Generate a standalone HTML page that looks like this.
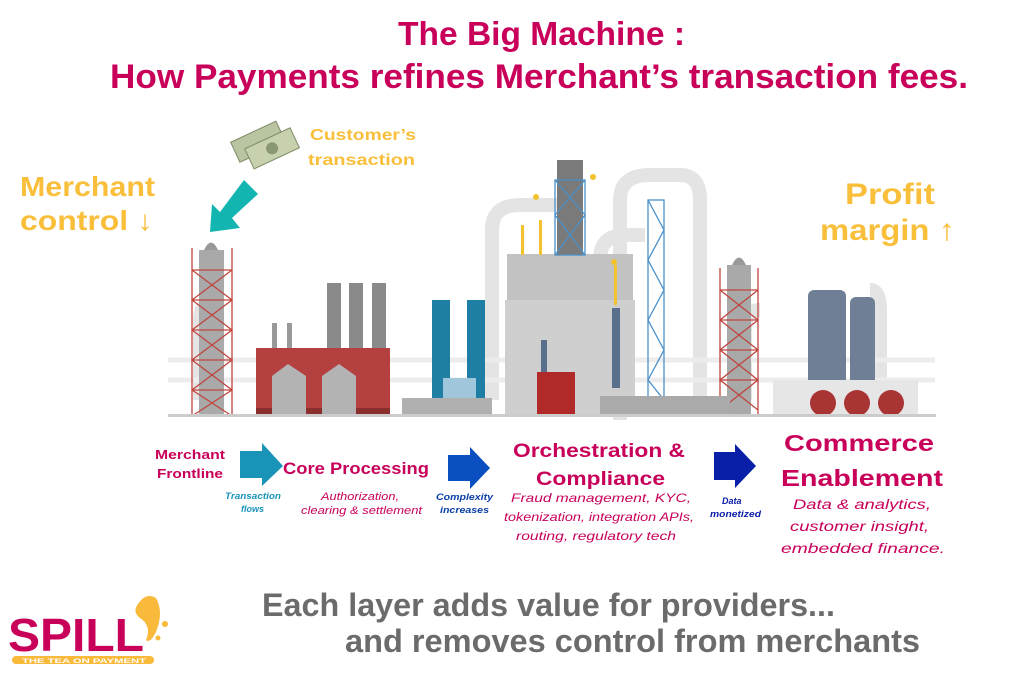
<!DOCTYPE html>
<html><head><meta charset="utf-8"><style>
html,body{margin:0;padding:0;background:#fff;}
svg{display:block;}
text{font-family:"Liberation Sans",sans-serif;font-weight:bold;}
</style></head><body>
<svg width="1024" height="683" viewBox="0 0 1024 683" xmlns="http://www.w3.org/2000/svg">
<rect width="1024" height="683" fill="#fff"/>
<text x="398" y="45" font-size="33" fill="#c8005a" textLength="287" lengthAdjust="spacingAndGlyphs">The Big Machine :</text>
<text x="110" y="88" font-size="34" fill="#c8005a" textLength="858" lengthAdjust="spacingAndGlyphs">How Payments refines Merchant’s transaction fees.</text>

<text x="20" y="196" font-size="28" fill="#f9bf3b" textLength="135" lengthAdjust="spacingAndGlyphs">Merchant</text>
<text x="20" y="230" font-size="28" fill="#f9bf3b" textLength="133" lengthAdjust="spacingAndGlyphs">control ↓</text>
<text x="845" y="204" font-size="30" fill="#f9bf3b" textLength="90" lengthAdjust="spacingAndGlyphs">Profit</text>
<text x="820" y="240" font-size="30" fill="#f9bf3b" textLength="135" lengthAdjust="spacingAndGlyphs">margin ↑</text>
<text x="310" y="140" font-size="16" fill="#f9bf3b" textLength="106" lengthAdjust="spacingAndGlyphs">Customer’s</text>
<text x="308" y="165" font-size="16" fill="#f9bf3b" textLength="107" lengthAdjust="spacingAndGlyphs">transaction</text>

<g transform="rotate(-25 265 145)">
<rect x="235" y="128" width="50" height="22" fill="#b9c4a0" stroke="#7d8a66"/>
<rect x="245" y="140" width="50" height="22" fill="#c7d1ae" stroke="#7d8a66"/>
<circle cx="270" cy="151" r="6" fill="#8a9872"/>
</g>
<polygon points="244,180 258,194 232,218 240,228 210,232 212,204 220,212" fill="#13b5b1"/>

<g fill="none" stroke="#e4e4e4" stroke-width="14">
<path d="M492,400 V230 Q492,205 520,205 H560"/>
<path d="M620,420 V200 Q620,175 650,175 H680 Q700,175 700,200 V400"/>
<path d="M600,400 V260 Q600,235 625,235 H645"/>
<path d="M200,400 V320 Q200,300 220,300"/>
<path d="M745,400 V330 Q745,310 760,310"/>
<path d="M880,400 V310 Q880,290 870,290"/>
</g>
<g stroke="#ececec" stroke-width="5">
<line x1="168" y1="360" x2="935" y2="360"/>
<line x1="168" y1="380" x2="935" y2="380"/>
</g>

<rect x="199" y="250" width="25" height="166" fill="#a9a9a9"/>
<path d="M204,250 Q211,235 218,250Z" fill="#999"/>
<g stroke="#c0453f" stroke-width="1.3" fill="none">
<line x1="192" y1="248" x2="192" y2="416"/><line x1="232" y1="248" x2="232" y2="416"/>
<path d="M192,270 H232 M192,300 H232 M192,330 H232 M192,360 H232 M192,390 H232 M192,270 L232,300 L192,330 L232,360 L192,390 L232,416 M232,270 L192,300 L232,330 L192,360 L232,390 L192,416"/>
</g>
<rect x="727" y="265" width="24" height="151" fill="#a9a9a9"/>
<path d="M732,265 Q739,250 746,265Z" fill="#999"/>
<g stroke="#c0453f" stroke-width="1.3" fill="none">
<line x1="720" y1="268" x2="720" y2="416"/><line x1="758" y1="268" x2="758" y2="416"/>
<path d="M720,290 H758 M720,320 H758 M720,350 H758 M720,380 H758 M720,290 L758,320 L720,350 L758,380 L720,410 M758,290 L720,320 L758,350 L720,380 L758,410"/>
</g>

<rect x="327" y="283" width="14" height="70" fill="#8a8a8a"/>
<rect x="349" y="283" width="14" height="70" fill="#8a8a8a"/>
<rect x="372" y="283" width="14" height="70" fill="#8a8a8a"/>
<rect x="272" y="323" width="5" height="30" fill="#999"/><rect x="287" y="323" width="5" height="30" fill="#999"/>
<rect x="256" y="348" width="134" height="60" fill="#b54040"/>
<rect x="256" y="408" width="134" height="8" fill="#8a2e2e"/>
<path d="M272,376 L288,364 L306,376 V416 H272Z" fill="#b3b3b3"/>
<path d="M322,376 L339,364 L356,376 V416 H322Z" fill="#b3b3b3"/>

<rect x="432" y="300" width="18" height="110" fill="#1e7ea3"/>
<rect x="467" y="300" width="18" height="110" fill="#1e7ea3"/>
<rect x="443" y="378" width="33" height="22" fill="#9fc6da"/>
<rect x="402" y="398" width="90" height="18" fill="#b0b0b0"/>

<rect x="507" y="254" width="126" height="50" fill="#c2c2c2"/>
<rect x="505" y="300" width="130" height="116" fill="#cfcfcf"/>
<rect x="557" y="160" width="26" height="95" fill="#7a7a7a"/>
<g stroke="#4a90c9" stroke-width="1.3" fill="none">
<rect x="555" y="180" width="30" height="75"/>
<path d="M555,180 L585,215 L555,255 M585,180 L555,215 L585,255"/>
<rect x="648" y="200" width="16" height="200"/>
<path d="M648,200 L664,230 L648,260 L664,290 L648,320 L664,350 L648,380 L664,400"/>
</g>
<g fill="#f2c32e">
<rect x="521" y="225" width="3" height="30"/><rect x="539" y="220" width="3" height="35"/><rect x="614" y="265" width="3" height="40"/>
<circle cx="536" cy="197" r="3"/><circle cx="593" cy="177" r="3"/><circle cx="614" cy="262" r="3"/>
</g>
<rect x="612" y="308" width="8" height="80" fill="#5a6f8c"/>
<rect x="541" y="340" width="6" height="40" fill="#5a6f8c"/>
<rect x="537" y="372" width="38" height="44" fill="#b02a2a"/>
<rect x="600" y="396" width="130" height="20" fill="#aaa"/>

<rect x="808" y="290" width="38" height="100" rx="6" fill="#6e7f96"/>
<rect x="850" y="297" width="25" height="93" rx="6" fill="#6e7f96"/>
<rect x="773" y="380" width="145" height="36" fill="#e6e6e6"/>
<circle cx="823" cy="403" r="13" fill="#a83434"/>
<circle cx="857" cy="403" r="13" fill="#a83434"/>
<circle cx="891" cy="403" r="13" fill="#a83434"/>

<rect x="168" y="414" width="768" height="3" fill="#ccc"/>

<text x="155" y="459" font-size="13" fill="#c8005a" textLength="70" lengthAdjust="spacingAndGlyphs">Merchant</text>
<text x="157" y="478" font-size="13" fill="#c8005a" textLength="66" lengthAdjust="spacingAndGlyphs">Frontline</text>
<polygon points="240,451 262,451 262,443 283,466 262,486 262,478 240,478" fill="#1a93b8"/>
<text x="283" y="474" font-size="17" fill="#c8005a" textLength="146" lengthAdjust="spacingAndGlyphs">Core Processing</text>
<text x="225" y="499" font-size="9" font-style="italic" fill="#1a93b8" textLength="56" lengthAdjust="spacingAndGlyphs">Transaction</text>
<text x="241" y="512" font-size="9" font-style="italic" fill="#1a93b8">flows</text>
<text x="321" y="500" font-size="11" font-style="italic" fill="#c8005a" style="font-weight:normal" textLength="78" lengthAdjust="spacingAndGlyphs">Authorization,</text>
<text x="301" y="514" font-size="11" font-style="italic" fill="#c8005a" style="font-weight:normal" textLength="121" lengthAdjust="spacingAndGlyphs">clearing &amp; settlement</text>

<polygon points="448,455 470,455 470,447 490,468 470,489 470,481 448,481" fill="#0a4fbf"/>
<text x="436" y="500" font-size="9" font-style="italic" fill="#0a3fa8" textLength="57" lengthAdjust="spacingAndGlyphs">Complexity</text>
<text x="440" y="513" font-size="9" font-style="italic" fill="#0a3fa8" textLength="49" lengthAdjust="spacingAndGlyphs">increases</text>

<text x="513" y="457" font-size="19" fill="#c8005a" textLength="172" lengthAdjust="spacingAndGlyphs">Orchestration &amp;</text>
<text x="536" y="485" font-size="19" fill="#c8005a" textLength="129" lengthAdjust="spacingAndGlyphs">Compliance</text>
<text x="511" y="502" font-size="12" font-style="italic" fill="#c8005a" style="font-weight:normal" textLength="180" lengthAdjust="spacingAndGlyphs">Fraud management, KYC,</text>
<text x="504" y="521" font-size="12" font-style="italic" fill="#c8005a" style="font-weight:normal" textLength="190" lengthAdjust="spacingAndGlyphs">tokenization, integration APIs,</text>
<text x="516" y="540" font-size="12" font-style="italic" fill="#c8005a" style="font-weight:normal" textLength="160" lengthAdjust="spacingAndGlyphs">routing, regulatory tech</text>

<polygon points="714,452 735,452 735,444 756,466 735,488 735,480 714,480" fill="#0a1fa8"/>
<text x="722" y="504" font-size="9" font-style="italic" fill="#0a1fa8">Data</text>
<text x="710" y="517" font-size="9" font-style="italic" fill="#0a1fa8" textLength="51" lengthAdjust="spacingAndGlyphs">monetized</text>

<text x="784" y="451" font-size="23" fill="#c8005a" textLength="150" lengthAdjust="spacingAndGlyphs">Commerce</text>
<text x="781" y="486" font-size="23" fill="#c8005a" textLength="162" lengthAdjust="spacingAndGlyphs">Enablement</text>
<text x="793" y="509" font-size="14" font-style="italic" fill="#c8005a" style="font-weight:normal" textLength="138" lengthAdjust="spacingAndGlyphs">Data &amp; analytics,</text>
<text x="790" y="531" font-size="14" font-style="italic" fill="#c8005a" style="font-weight:normal" textLength="139" lengthAdjust="spacingAndGlyphs">customer insight,</text>
<text x="781" y="553" font-size="14" font-style="italic" fill="#c8005a" style="font-weight:normal" textLength="164" lengthAdjust="spacingAndGlyphs">embedded finance.</text>

<text x="262" y="616" font-size="32" fill="#6b6b6b" textLength="573" lengthAdjust="spacingAndGlyphs">Each layer adds value for providers...</text>
<text x="345" y="652" font-size="32" fill="#6b6b6b" textLength="575" lengthAdjust="spacingAndGlyphs">and removes control from merchants</text>

<path d="M138,604 Q146,592 156,598 Q164,612 156,632 Q150,644 146,640 Q152,626 140,618 Q132,612 138,604Z" fill="#f9b93b"/>
<circle cx="165" cy="624" r="3" fill="#f9b93b"/>
<circle cx="158" cy="638" r="2.5" fill="#f9b93b"/>
<text x="8" y="651" font-size="46" fill="#c8005a" textLength="136" lengthAdjust="spacingAndGlyphs">SPILL</text>
<rect x="12" y="656" width="142" height="8" rx="4" fill="#f9b93b"/>
<text x="22" y="663" font-size="6" fill="#fff" textLength="124" lengthAdjust="spacingAndGlyphs">THE TEA ON PAYMENT</text>
</svg>
</body></html>
